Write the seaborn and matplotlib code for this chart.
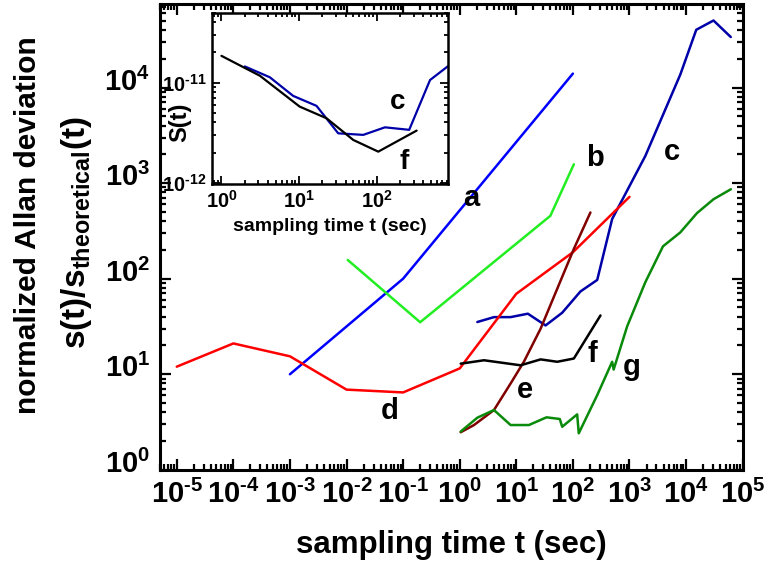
import numpy as np
import pandas as pd
import matplotlib
matplotlib.use("Agg")
import matplotlib.pyplot as plt
import matplotlib.transforms as mtrans
from matplotlib.ticker import LogLocator, NullFormatter, FuncFormatter
import seaborn as sns

# ---------------- data ----------------
a_x = [1e-3, 0.1, 100]
a_y = [10, 100, 1.4e4]

b_x = [0.0105, 0.2, 40, 104]
b_y = [157, 35, 455, 1575]

c_x = [2.05, 4.03, 7.93, 16.0, 32.9, 64.7, 136, 269, 494, 1905, 7907, 15136, 30550, 61660]
c_y = [35.2, 39.6, 39.6, 43.0, 32.4, 44.0, 73.5, 97, 421, 1923, 13680, 40270, 50350, 33810]

d_x = [1e-5, 1e-4, 1e-3, 0.01, 0.1, 1, 10, 100, 1000]
d_y = [12, 21, 15.4, 6.9, 6.45, 11.5, 69.5, 189, 718]

e_x = [1.04, 1.79, 4.03, 7.93, 13.6, 26.9, 52.8, 104, 204]
e_y = [2.47, 2.94, 4.22, 8.0, 13.5, 30.0, 78.3, 205, 493]

f_x = [1.04, 2.69, 11.9, 26.9, 52.8, 104, 307]
f_y = [12.9, 14.0, 12.4, 14.3, 13.5, 14.6, 41.2]

g_x = [1.04, 2.05, 4.03, 7.93, 16.7, 34.2, 58.7, 64.7, 119, 127, 269, 494, 525,
       908, 1905, 3908, 7907, 15560, 30620, 61940]
g_y = [2.51, 3.51, 4.22, 2.94, 2.94, 3.54, 3.40, 2.82, 3.80, 2.41, 6.04, 13.5, 11.2,
       31.6, 91.8, 218, 305, 485, 679, 863]

inset_f_x = [1, 3.13, 10.2, 22.6, 50, 105, 328]
inset_f_y = [1.85e-11, 1.17e-11, 5.75e-12, 4.40e-12, 2.67e-12, 2.04e-12, 3.31e-12]

inset_c_x = [2.0, 4.2, 8.4, 16.8, 32, 67.3, 128, 263, 488, 824]
inset_c_y = [1.45e-11, 1.13e-11, 7.36e-12, 5.85e-12, 3.11e-12, 3.0e-12, 3.57e-12,
             3.37e-12, 1.06e-11, 1.45e-11]

main_labels = ["a", "b", "c", "d", "e", "f", "g"]

# ---------------- style ----------------
sns.set_style("ticks")
plt.rcParams["font.family"] = ["Liberation Sans", "DejaVu Sans"]
plt.rcParams["font.weight"] = "bold"
plt.rcParams["axes.unicode_minus"] = False
plt.rcParams["mathtext.fontset"] = "custom"
plt.rcParams["mathtext.rm"] = "Liberation Sans:bold"
plt.rcParams["mathtext.it"] = "Liberation Sans:bold"
plt.rcParams["mathtext.bf"] = "Liberation Sans:bold"
for k in ["text.color", "axes.labelcolor", "xtick.color", "ytick.color", "axes.edgecolor"]:
    plt.rcParams[k] = "black"

colors = {
    "a": "#0000ff",
    "b": "#22ee22",
    "c": "#0000a8",
    "d": "#ff0000",
    "e": "#800000",
    "f": "#000000",
    "g": "#0a8a0a",
}


def pow_fmt(v, pos):
    e = int(round(np.log10(v)))
    s = r"\text{-}%d" % (-e) if e < 0 else "%d" % e
    return r"$\mathdefault{10^{%s}}$" % s


def setup_log_axis(a):
    a.set_xscale("log")
    a.set_yscale("log")
    for axis in (a.xaxis, a.yaxis):
        axis.set_major_locator(LogLocator(base=10, numticks=20))
        axis.set_minor_locator(LogLocator(base=10, subs=np.arange(2, 10), numticks=200))
        axis.set_major_formatter(FuncFormatter(pow_fmt))
        axis.set_minor_formatter(NullFormatter())


fig = plt.figure(figsize=(7.68, 5.66), dpi=100)
ax = fig.add_axes([0.208, 0.170, 0.759, 0.823])

series = {
    "a": (a_x, a_y), "b": (b_x, b_y), "c": (c_x, c_y), "d": (d_x, d_y),
    "e": (e_x, e_y), "f": (f_x, f_y), "g": (g_x, g_y),
}
for name, (xs, ys) in series.items():
    df = pd.DataFrame({"t": xs, "s": ys})
    sns.lineplot(data=df, x="t", y="s", ax=ax, color=colors[name], lw=1.8,
                 sort=False, estimator=None)

setup_log_axis(ax)
ax.set_xlim(5e-6, 1e5)
ax.set_ylim(1, 7.5e4)

for s in ax.spines.values():
    s.set_linewidth(2.2)
    s.set_visible(True)
ax.tick_params(which="both", direction="in", top=True, right=True, width=1.6)
ax.tick_params(which="major", length=8, labelsize=21, pad=7)
ax.tick_params(which="minor", length=4)
up = mtrans.ScaledTranslation(0, 4 / 72, fig.dpi_scale_trans)
for tk in ax.yaxis.get_major_ticks():
    tk.label1.set_verticalalignment("center")
    tk.label1.set_transform(tk.label1.get_transform() + up)
ax.set_xlabel("")
ax.set_ylabel("")

# curve letters
lab_pos = {"a": (471, 198), "b": (595, 158), "c": (672, 152), "d": (390, 411),
           "e": (525, 390), "f": (592, 354), "g": (632, 367)}
for k in main_labels:
    px, py = lab_pos[k]
    fig.text(px / 768, 1 - py / 566, k, fontsize=21, fontweight="bold",
             ha="center", va="center")

fig.text(451 / 768, 1 - 545 / 566, "sampling time t (sec)", fontsize=22.5,
         fontweight="bold", ha="center", va="center")
fig.text(28 / 768, 1 - 225 / 566, "normalized Allan deviation", fontsize=21.5,
         fontweight="bold", rotation=90, ha="center", va="center")
fig.text(76 / 768, 1 - 233 / 566, r"$\mathdefault{s(t)/s_{theoretical}(t)}$",
         fontsize=24, fontweight="bold", rotation=90, ha="center", va="center")

# ---------------- inset ----------------
ins = fig.add_axes([0.2757, 0.675, 0.307, 0.3027])
for name, (xs, ys) in {"c": (inset_c_x, inset_c_y), "f": (inset_f_x, inset_f_y)}.items():
    df = pd.DataFrame({"t": xs, "s": ys})
    sns.lineplot(data=df, x="t", y="s", ax=ins, color=colors[name], lw=1.6,
                 sort=False, estimator=None)
setup_log_axis(ins)
ins.set_xlim(0.75, 820)
ins.set_ylim(0.97e-12, 5e-11)
for s in ins.spines.values():
    s.set_linewidth(1.8)
    s.set_visible(True)
ins.tick_params(which="both", direction="in", top=True, right=True, width=1.3)
ins.tick_params(which="major", length=6, labelsize=14.5, pad=4)
ins.tick_params(which="minor", length=3)
ins.set_xlabel("sampling time t (sec)", fontsize=14, fontweight="bold", labelpad=5)
ins.set_ylabel("S(t)", fontsize=17, fontweight="bold")
ins.yaxis.set_label_coords(-0.085, 0.36)
fig.text(398 / 768, 1 - 102 / 566, "c", fontsize=20, fontweight="bold",
         ha="center", va="center")
fig.text(404 / 768, 1 - 162 / 566, "f", fontsize=20, fontweight="bold",
         ha="center", va="center")

fig.savefig("out.png", dpi=100)
